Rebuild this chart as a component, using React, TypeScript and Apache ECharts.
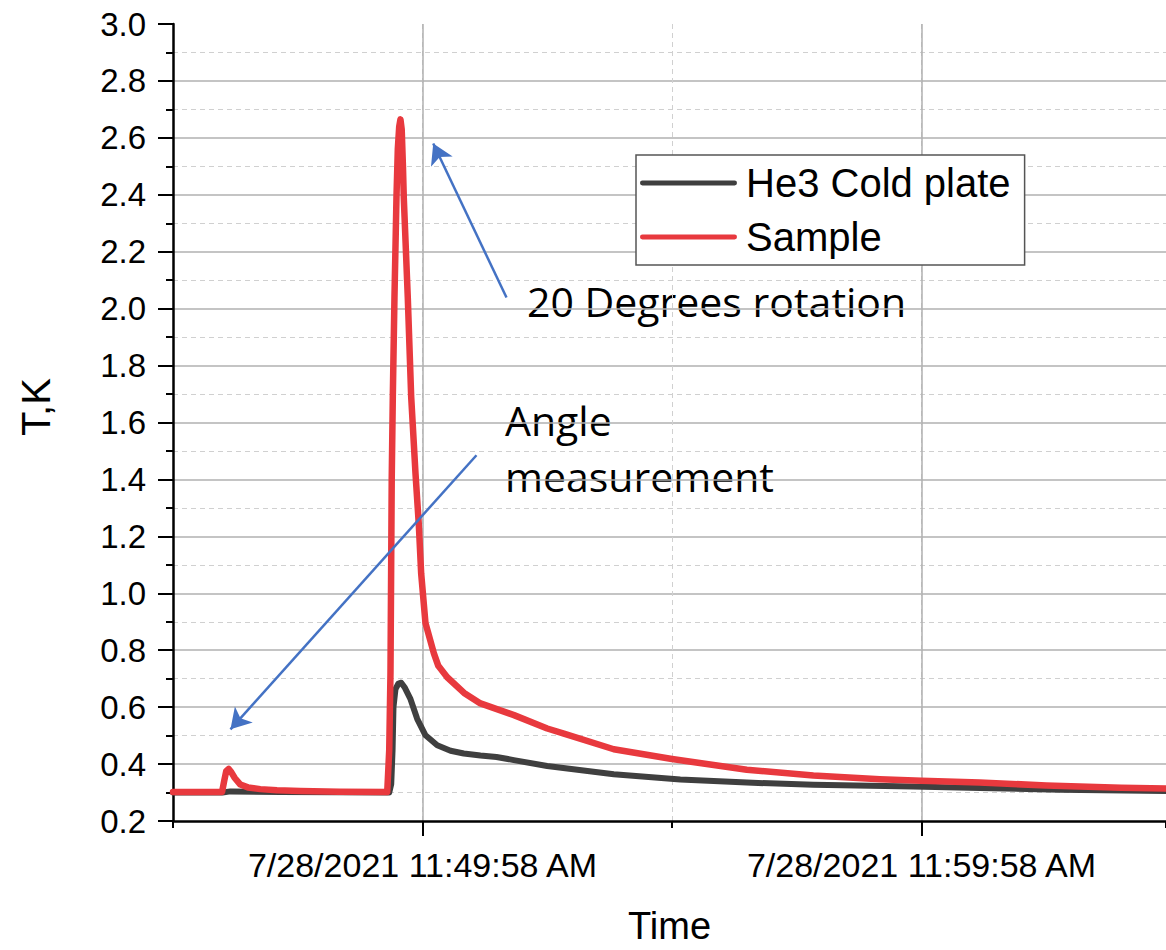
import React, { useEffect, useRef } from "react";
import * as echarts from "echarts";

// Time in seconds relative to 7/28/2021 11:49:58 AM
const tBlack = [-300, -240.5, -231, -171, -100, -40, -37.6, -36, -34.9, -32.5, -28.9, -25.6, -21.6, -14.4, -6.4, 3.6, 17.7, 33.7, 49.7, 69.7, 89, 109.8, 149.9, 230, 310, 390, 470, 590, 670, 767, 894];
const vBlack = [0.300, 0.300, 0.304, 0.302, 0.301, 0.300, 0.33, 0.45, 0.6, 0.663, 0.683, 0.686, 0.67, 0.628, 0.559, 0.501, 0.466, 0.447, 0.437, 0.43, 0.425, 0.414, 0.393, 0.364, 0.346, 0.335, 0.327, 0.321, 0.316, 0.31, 0.305];

const tRed = [-300, -241, -238.5, -236, -233, -230, -226, -219, -210, -195, -175, -147, -100, -42.4, -40, -38.5, -37, -35.7, -33.7, -31.3, -29.7, -28, -26.5, -25, -23.5, -22.5, -17.7, -13.6, -8.4, -4.4, -1.6, 3.6, 13.6, 19, 29.7, 50, 69.7, 110, 150, 170, 230, 300, 390, 470, 550, 600, 670, 750, 840, 894];
const vRed = [0.302, 0.302, 0.34, 0.375, 0.383, 0.372, 0.352, 0.328, 0.318, 0.312, 0.308, 0.305, 0.303, 0.302, 0.45, 0.72, 1.4, 1.69, 2.04, 2.39, 2.56, 2.64, 2.665, 2.63, 2.5, 2.39, 2.04, 1.69, 1.42, 1.24, 1.07, 0.895, 0.79, 0.745, 0.705, 0.65, 0.613, 0.572, 0.525, 0.507, 0.452, 0.418, 0.38, 0.36, 0.347, 0.341, 0.335, 0.325, 0.317, 0.314];

const seriesNames = ["He3 Cold plate", "Sample"];
const seriesColors = ["#3f3f3f", "#e8393e"];

const xTickValues = [0, 600];
const xTickLabels = ["7/28/2021 11:49:58 AM", "7/28/2021 11:59:58 AM"];

// Annotation arrows in data coordinates: [from, to]
const arrowRotation = [[101, 2.039], [12.9, 2.58]];
const arrowAngle = [[64.9, 1.485], [-230.9, 0.522]];

const FONT = "'Liberation Sans', Arial, sans-serif";
const NOTE_FONT = "'Open Sans', Lato, sans-serif";
const LEGEND_ICON = "path://M2,0 H98 A2,2 0 0 1 98,5 H2 A2,2 0 0 1 2,0 Z";

export default function App() {
  const ref = useRef<HTMLDivElement>(null);
  useEffect(() => {
    if (!ref.current) return;
    document.body.style.margin = "0";
    document.body.style.overflow = "hidden";
    const chart = echarts.init(ref.current, null, { renderer: "svg", width: 1166, height: 950 });
    const black = tBlack.map((t, i) => [t, vBlack[i]]);
    const red = tRed.map((t, i) => [t, vRed[i]]);
    const xFmt = (v: number) => {
      const i = xTickValues.indexOf(Math.round(v));
      return i >= 0 ? xTickLabels[i] : "";
    };
    chart.setOption({
      animation: false,
      backgroundColor: "#ffffff",
      grid: { left: 173, top: 24, width: 993, height: 806, containLabel: false },
      legend: {
        orient: "vertical",
        left: 636,
        top: 155,
        backgroundColor: "#ffffff",
        borderColor: "#555555",
        borderWidth: 1.5,
        borderRadius: 0,
        padding: [8, 14, 8, 4],
        itemWidth: 97,
        itemHeight: 30,
        itemGap: 14,
        data: seriesNames.map((n) => ({ name: n, icon: LEGEND_ICON })),
        textStyle: { fontSize: 40, color: "#000", fontFamily: FONT, padding: [0, 0, 0, 4] },
      },
      xAxis: [
        {
          type: "value",
          min: -300,
          max: 894,
          interval: 300,
          axisLine: { show: true, onZero: false, lineStyle: { color: "#000", width: 2.5 } },
          axisTick: { show: true, inside: false, length: 7, lineStyle: { color: "#000", width: 2 } },
          axisLabel: { show: false },
          splitLine: { show: true, lineStyle: { color: "#d0d0d0", width: 1, type: [5, 4] } },
        },
        {
          type: "value",
          min: -300,
          max: 894,
          position: "bottom",
          axisLine: { show: false, onZero: false },
          axisTick: { show: true, inside: false, length: 15, customValues: xTickValues, lineStyle: { color: "#000", width: 2 } },
          axisLabel: {
            show: true,
            customValues: xTickValues,
            formatter: xFmt,
            fontSize: 34,
            color: "#000",
            fontFamily: FONT,
            margin: 27,
          },
          splitLine: { show: true, lineStyle: { color: "#b0b0b0", width: 1.5, type: "solid" } },
          name: "Time",
          nameLocation: "middle",
          nameGap: 86,
          nameTextStyle: { fontSize: 38, color: "#000", fontFamily: FONT },
        },
      ],
      yAxis: {
        type: "value",
        min: 0.2,
        max: 3.0,
        interval: 0.2,
        axisLine: { show: true, onZero: false, lineStyle: { color: "#000", width: 2.5 } },
        axisTick: { show: true, inside: false, length: 15, lineStyle: { color: "#000", width: 2 } },
        minorTick: { show: true, splitNumber: 2, length: 7, lineStyle: { color: "#000", width: 2 } },
        axisLabel: {
          formatter: (v: number) => v.toFixed(1),
          fontSize: 33,
          color: "#000",
          fontFamily: FONT,
          margin: 27,
        },
        splitLine: { show: true, showMaxLine: false, showMinLine: false, lineStyle: { color: "#b0b0b0", width: 1.5 } },
        minorSplitLine: { show: true, lineStyle: { color: "#d0d0d0", width: 1, type: [5, 4] } },
      },
      graphic: [
        {
          type: "text",
          x: 36,
          y: 407,
          rotation: Math.PI / 2,
          style: { text: "T,K", fontSize: 40, fontFamily: FONT, fill: "#000", align: "center", verticalAlign: "middle" },
        },
        {
          type: "text",
          x: 527,
          y: 301,
          style: { text: "20 Degrees rotation", fontSize: 41, fontFamily: NOTE_FONT, fill: "#000", align: "left", verticalAlign: "middle" },
        },
        {
          type: "text",
          x: 505,
          y: 392,
          style: { text: "Angle\nmeasurement", fontSize: 41, lineHeight: 56, fontFamily: NOTE_FONT, fill: "#000", align: "left", verticalAlign: "top" },
        },
      ],
      series: [
        {
          name: seriesNames[0],
          type: "line",
          xAxisIndex: 0,
          data: black,
          showSymbol: false,
          symbol: "none",
          smooth: false,
          color: seriesColors[0],
          lineStyle: { color: seriesColors[0], width: 6, cap: "round", join: "round" },
          z: 2,
        },
        {
          name: seriesNames[1],
          type: "line",
          xAxisIndex: 0,
          data: red,
          showSymbol: false,
          symbol: "none",
          smooth: false,
          color: seriesColors[1],
          lineStyle: { color: seriesColors[1], width: 6.5, cap: "round", join: "round" },
          z: 3,
          markLine: {
            silent: true,
            symbol: ["none", "arrow"],
            symbolSize: [18, 20],
            label: { show: false },
            lineStyle: { color: "#4472c4", width: 2.5, type: "solid" },
            data: [
              [{ coord: arrowRotation[0] }, { coord: arrowRotation[1] }],
              [{ coord: arrowAngle[0] }, { coord: arrowAngle[1] }],
            ],
          },
        },
      ],
    });
    return () => chart.dispose();
  }, []);
  return <div ref={ref} style={{ position: "absolute", left: 0, top: 0, width: 1166, height: 950 }} />;
}
